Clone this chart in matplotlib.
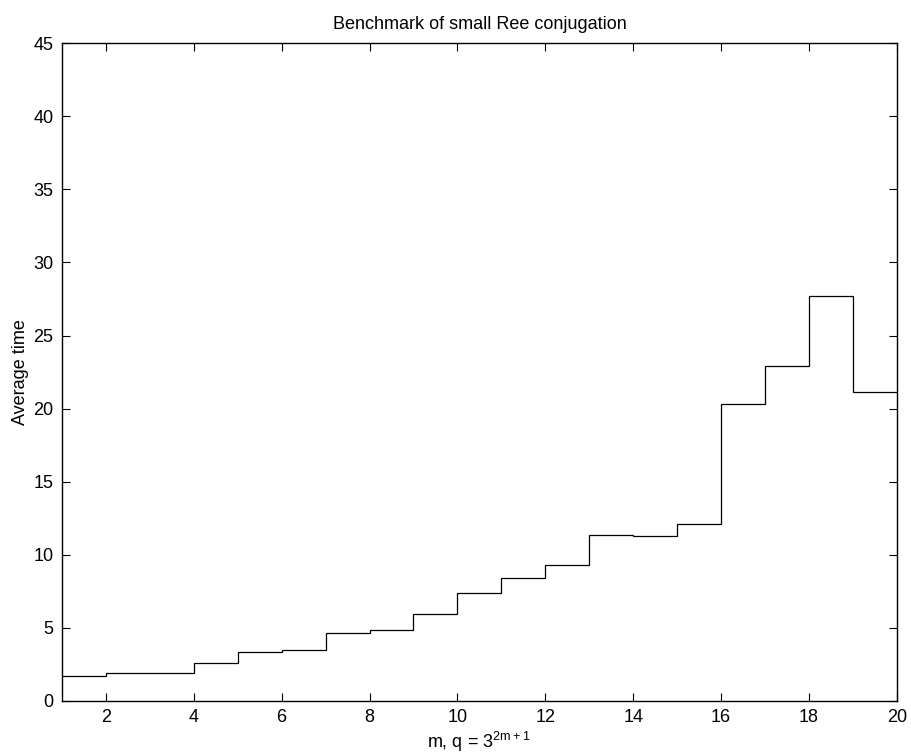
import numpy as np
import matplotlib
matplotlib.use('Agg')
import matplotlib.pyplot as plt

# average time per m (step from m to m+1)
m_edges = list(range(1, 21))
avg_time = [1.67, 1.87, 1.90, 2.60, 3.31, 3.49, 4.64, 4.82, 5.92, 7.38,
            8.40, 9.27, 11.36, 11.26, 12.08, 20.32, 22.90, 27.74, 21.12]
xticks = list(range(2, 21, 2))
yticks = list(range(0, 46, 5))

plt.rcParams['font.family'] = ['Liberation Sans', 'DejaVu Sans']
plt.rcParams['mathtext.default'] = 'regular'
plt.rcParams['font.size'] = 13

fig = plt.figure(figsize=(9.11, 7.56), dpi=100)
ax = fig.add_axes([0.068, 0.073, 0.9165, 0.8697])
ax.stairs(avg_time, m_edges, color='black', linewidth=0.9, baseline=None)

ax.set_xlim(1, 20)
ax.set_ylim(0, 45)
ax.set_xticks(xticks)
ax.set_yticks(yticks)
ax.tick_params(direction='in', length=6, width=0.8, top=True, right=True, labelsize=13, pad=6)
for s in ax.spines.values():
    s.set_linewidth(1.0)

ax.set_title('Benchmark of small Ree conjugation', fontsize=13, pad=10)
ax.set_xlabel('m, q = 3$^{2m + 1}$', fontsize=13, labelpad=3)
ax.set_ylabel('Average time', fontsize=13, labelpad=3)

fig.savefig('out.png', dpi=100)
